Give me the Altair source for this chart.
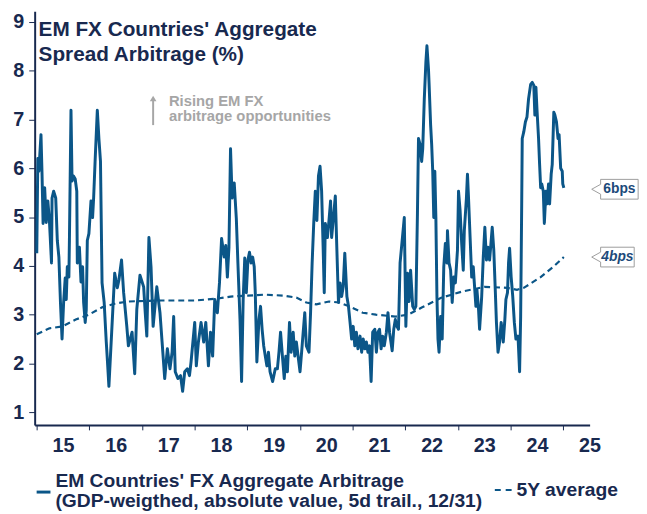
import altair as alt
import pandas as pd

BLUE = "#0b5688"
NAVY = "#18294f"
GRAY = "#a6a6a6"
CALLOUT_TEXT = "#1d4a7a"
FONT = "Liberation Sans"

# ---- main series: EM FX aggregate arbitrage (decimal year, %) ----
arb_t = [
    2015.00, 2015.02, 2015.04, 2015.08, 2015.10, 2015.12, 2015.15, 2015.18, 2015.21, 2015.24,
    2015.28, 2015.29, 2015.32, 2015.36, 2015.39, 2015.42, 2015.45, 2015.48, 2015.51, 2015.54,
    2015.56, 2015.58, 2015.61, 2015.62, 2015.65, 2015.67, 2015.70, 2015.73, 2015.76, 2015.77,
    2015.81, 2015.84, 2015.87, 2015.89, 2015.92, 2015.94, 2015.96, 2015.99,
    2016.03, 2016.06, 2016.08, 2016.11, 2016.15, 2016.18, 2016.21, 2016.24, 2016.28, 2016.32,
    2016.34, 2016.37, 2016.48, 2016.53, 2016.56, 2016.61, 2016.65, 2016.71, 2016.74, 2016.81,
    2016.86, 2016.90, 2016.96,
    2017.03, 2017.06, 2017.09, 2017.13, 2017.17, 2017.21, 2017.28, 2017.34, 2017.38, 2017.43,
    2017.48, 2017.53, 2017.57, 2017.60, 2017.63, 2017.68, 2017.73, 2017.77, 2017.81, 2017.86,
    2017.90, 2017.93,
    2018.00, 2018.03, 2018.07, 2018.12, 2018.17, 2018.21, 2018.26, 2018.30, 2018.34, 2018.38,
    2018.43, 2018.47, 2018.51, 2018.56, 2018.59, 2018.62, 2018.65, 2018.68, 2018.71, 2018.75,
    2018.79, 2018.82, 2018.86, 2018.89, 2018.92, 2018.95, 2018.98,
    2019.01, 2019.04, 2019.07, 2019.10, 2019.13, 2019.15, 2019.18, 2019.22, 2019.25, 2019.28,
    2019.31, 2019.34, 2019.37, 2019.40, 2019.43, 2019.48, 2019.53, 2019.57, 2019.60, 2019.63,
    2019.67, 2019.70, 2019.73, 2019.76, 2019.80, 2019.83, 2019.87, 2019.90, 2019.93, 2019.97,
    2020.00, 2020.03, 2020.06, 2020.09, 2020.12, 2020.17, 2020.20, 2020.23, 2020.26, 2020.29,
    2020.32, 2020.35, 2020.38, 2020.41, 2020.44, 2020.46, 2020.48, 2020.52, 2020.55, 2020.58,
    2020.60, 2020.63, 2020.67, 2020.70, 2020.73, 2020.76, 2020.79, 2020.82, 2020.85, 2020.89,
    2020.92, 2020.95, 2020.98,
    2021.01, 2021.04, 2021.07, 2021.10, 2021.14, 2021.17, 2021.20, 2021.23, 2021.26, 2021.29,
    2021.32, 2021.35, 2021.38, 2021.42, 2021.45, 2021.48, 2021.51, 2021.54, 2021.57, 2021.60,
    2021.64, 2021.67, 2021.70, 2021.75, 2021.78, 2021.81, 2021.84, 2021.87, 2021.90, 2021.94,
    2021.98,
    2022.01, 2022.04, 2022.07, 2022.10, 2022.14, 2022.17, 2022.20, 2022.23, 2022.25, 2022.28,
    2022.31, 2022.33, 2022.36, 2022.39, 2022.41, 2022.44, 2022.45, 2022.48, 2022.50, 2022.52,
    2022.54, 2022.56, 2022.58, 2022.60, 2022.62, 2022.64, 2022.67, 2022.70, 2022.73, 2022.76,
    2022.79, 2022.80, 2022.83, 2022.86, 2022.89, 2022.92, 2022.95, 2022.99,
    2023.01, 2023.04, 2023.07, 2023.10, 2023.12, 2023.16, 2023.18, 2023.20, 2023.23, 2023.26,
    2023.29, 2023.31, 2023.34, 2023.36, 2023.39, 2023.41, 2023.45, 2023.48, 2023.51, 2023.54,
    2023.57, 2023.60, 2023.62, 2023.65, 2023.68, 2023.71, 2023.73, 2023.76, 2023.79, 2023.82,
    2023.86, 2023.89, 2023.91, 2023.94, 2023.96, 2023.98,
    2024.01, 2024.04, 2024.07, 2024.10, 2024.14, 2024.17, 2024.19, 2024.21, 2024.22, 2024.25,
    2024.28, 2024.31, 2024.34, 2024.38, 2024.41, 2024.44, 2024.46, 2024.48, 2024.50, 2024.53,
    2024.55, 2024.57, 2024.59, 2024.62, 2024.64, 2024.67, 2024.69, 2024.72, 2024.74, 2024.77,
    2024.79, 2024.82, 2024.84, 2024.87, 2024.90, 2024.92, 2024.95, 2024.98, 2024.99, 2025.01,
]
arb_v = [
    4.26, 6.20, 5.94, 6.69, 5.88, 4.87, 5.60, 4.89, 5.33, 4.93,
    4.06, 5.39, 5.53, 5.39, 4.52, 4.18, 3.25, 2.50, 3.25, 3.75,
    3.31, 3.98, 3.77, 4.52, 7.19, 5.74, 5.84, 5.78, 5.53, 4.06,
    4.38, 3.67, 3.98, 3.25, 2.84, 3.10, 4.52, 4.66,
    5.33, 4.99, 5.39, 6.20, 7.19, 6.61, 6.14, 3.65, 3.25, 2.44,
    2.09, 1.53, 3.85, 3.55, 3.71, 4.12, 3.45, 2.76, 2.36, 2.64,
    1.79, 3.11, 3.81,
    3.57, 3.04, 2.56, 4.58, 3.98, 2.76, 3.57, 3.04, 2.44, 1.69,
    2.30, 1.89, 2.23, 2.96, 1.83, 1.69, 1.75, 1.43, 1.83, 1.89,
    1.75, 2.03,
    2.84, 1.95, 2.44, 2.84, 2.44, 2.84, 1.95, 2.64, 2.15, 3.31,
    3.04, 3.65, 4.56, 4.18, 4.42, 3.77, 4.38, 6.40, 5.39, 5.70,
    4.97, 4.06, 2.90, 1.63, 3.31, 4.16, 3.45,
    4.12, 4.28, 4.06, 4.18, 3.98, 3.45, 2.03, 2.90, 3.17, 2.70,
    2.36, 2.15, 1.95, 2.23, 1.83, 1.63, 1.89, 1.89, 2.23, 2.64,
    2.09, 1.69, 2.15, 1.83, 2.84, 2.23, 2.64, 2.15, 2.44, 2.09,
    1.83, 2.23, 2.64, 3.04, 2.36, 2.23, 3.04, 4.06, 4.87, 5.53,
    4.93, 5.84, 6.04, 5.53, 4.32, 3.45, 4.87, 4.58, 4.93, 5.33,
    4.58, 4.93, 5.43, 4.32, 3.25, 3.65, 3.37, 3.57, 4.26, 3.37,
    3.17, 2.84, 2.50,
    2.76, 2.36, 2.64, 2.30, 2.56, 2.23, 2.50, 2.30, 2.44, 2.23,
    2.36, 1.63, 2.64, 2.70, 2.23, 2.64, 2.70, 2.30, 2.56, 2.36,
    2.64, 3.04, 2.64, 2.26, 2.70, 2.90, 2.76, 2.70, 4.06, 4.52,
    4.99,
    2.76, 3.85, 3.27, 3.91, 3.17, 3.11, 3.17, 5.09, 6.61, 6.49,
    6.14, 6.40, 7.42, 8.17, 8.51, 8.02, 7.76, 6.89, 6.49, 5.94,
    4.99, 5.94, 4.99, 3.37, 2.50, 2.23, 2.96, 2.50, 3.98, 4.46,
    4.06, 4.72, 4.06, 3.91, 3.25, 3.77, 3.65, 4.32,
    5.53, 5.13, 4.46, 3.91, 4.72, 5.39, 5.88, 5.39, 4.58, 3.77,
    3.98, 3.65, 3.17, 3.51, 3.11, 2.70, 3.37, 4.18, 4.79, 4.12,
    4.38, 4.12, 4.38, 4.79, 4.32, 3.45, 2.84, 2.23, 2.44, 2.84,
    2.44, 2.90, 3.31, 3.45, 4.06, 4.36,
    3.77, 3.37, 2.84, 2.50, 2.56, 1.83, 2.96, 5.27, 6.61, 6.75,
    6.95, 7.05, 7.42, 7.72, 7.76, 7.70, 7.09, 7.66, 7.21, 6.61,
    6.08, 5.60, 5.68, 5.53, 4.87, 5.53, 5.27, 5.68, 5.27, 5.88,
    6.08, 7.15, 7.09, 6.95, 6.61, 6.69, 6.00, 5.94, 5.68, 5.60,
]

# ---- 5Y average (dashed) ----
avg_t = [
    2015.00, 2015.24, 2015.49, 2015.74, 2015.99, 2016.24, 2016.50, 2016.74, 2017.36, 2018.00,
    2018.43, 2018.68, 2019.00, 2019.32, 2019.69, 2019.93, 2020.12, 2020.31, 2020.55, 2020.74,
    2020.93, 2021.19, 2021.44, 2021.81, 2022.05, 2022.32, 2022.69, 2023.07, 2023.50, 2023.93,
    2024.12, 2024.25, 2024.57, 2024.81, 2025.01,
]
avg_v = [
    2.60, 2.72, 2.76, 2.90, 3.00, 3.15, 3.23, 3.27, 3.29, 3.29,
    3.33, 3.37, 3.39, 3.41, 3.39, 3.35, 3.25, 3.21, 3.27, 3.25,
    3.17, 3.04, 3.00, 2.96, 3.00, 3.15, 3.35, 3.47, 3.57, 3.55,
    3.51, 3.55, 3.77, 3.98, 4.18,
]

# ---- axes ----
x_ticks = list(range(2015, 2026))
y_ticks = list(range(1, 10))
x_domain = [2014.96, 2025.5]
y_domain = [0.74, 9.22]

# ---- texts ----
title_lines = ["EM FX Countries' Aggregate", "Spread Arbitrage (%)"]
note_lines = ["Rising EM FX", "arbitrage opportunities"]
note_arrow_t = [2017.21]
note_arrow_v0 = [6.885]
note_arrow_v1 = [7.40]
note_head_v = [7.43]
note_text_t = [2017.51]
note_text_v = [7.285]

callout_labels = ["6bps", "4bps"]
callout_t = [2025.54, 2025.54]
callout_v = [5.57, 4.18]
callout_dx = [28, 26]
callout_shapes = [
    "M0,0L0.18,-0.1L0.18,-0.2L0.94,-0.2L0.94,0.2L0.18,0.2L0.18,0.1Z",
    "M0,0L0.18,-0.1L0.18,-0.2L0.86,-0.2L0.86,0.2L0.18,0.2L0.18,0.1Z",
]

legend_main_lines = ["EM Countries' FX Aggregate Arbitrage",
                     "(GDP-weigthed, absolute value, 5d trail., 12/31)"]
legend_avg_label = "5Y average"

# ---- data frames ----
arb = pd.DataFrame({"t": arb_t, "v": arb_v})
avg = pd.DataFrame({"t": avg_t, "v": avg_v})
arrow = pd.DataFrame({"t": note_arrow_t, "v": note_arrow_v0, "v2": note_arrow_v1, "vh": note_head_v})
note = pd.DataFrame({"t": note_text_t, "v": note_text_v})
callouts = pd.DataFrame({"t": callout_t, "v": callout_v, "label": callout_labels,
                         "shape": callout_shapes})
one = pd.DataFrame({"k": [0]})

xs = alt.Scale(domain=x_domain, nice=False, zero=False)
ys = alt.Scale(domain=y_domain, nice=False, zero=False)

x_axis = alt.Axis(
    values=x_ticks, labelExpr="slice(toString(datum.value), 2)", labelOffset=26.6,
    labelFlush=False, labelOverlap=False, tickSize=5, tickWidth=1, tickColor=NAVY,
    domainColor=NAVY, domainWidth=2, labelColor=NAVY, labelFontSize=20,
    labelFontWeight="bold", labelFont=FONT, labelPadding=6, grid=False, title=None,
)
y_axis = alt.Axis(
    values=y_ticks, format="d", tickSize=6, tickWidth=1, tickColor=NAVY,
    domainColor=NAVY, domainWidth=2, labelColor=NAVY, labelFontSize=20,
    labelFontWeight="bold", labelFont=FONT, labelPadding=5, grid=False, title=None,
)


def X(field):
    return alt.X(field, type="quantitative", scale=xs, axis=x_axis)


def Y(field):
    return alt.Y(field, type="quantitative", scale=ys, axis=y_axis)


main_line = alt.Chart(arb).mark_line(color=BLUE, strokeWidth=3, strokeJoin="round").encode(
    x=X("t"), y=Y("v"))
avg_line = alt.Chart(avg).mark_line(color=BLUE, strokeWidth=2.2, strokeDash=[6, 4]).encode(
    x=X("t"), y=Y("v"))

arrow_rule = alt.Chart(arrow).mark_rule(color=GRAY, strokeWidth=2).encode(
    x=X("t"), y=Y("v"), y2="v2")
arrow_head = alt.Chart(arrow).mark_point(shape="triangle-up", filled=True, size=45,
                                         color=GRAY, opacity=1).encode(x=X("t"), y=Y("vh"))
note_text = alt.Chart(note).mark_text(
    text=note_lines, align="left", baseline="alphabetic", lineHeight=15.5,
    fontSize=15, fontWeight="bold", font=FONT, color=GRAY).encode(x=X("t"), y=Y("v"))

callout_box = alt.Chart(callouts).mark_point(
    filled=True, fill="white", fillOpacity=1, stroke="#9c9c9c", strokeWidth=1,
    size=10000, opacity=1).encode(x=X("t"), y=Y("v"),
                                  shape=alt.Shape("shape:N", scale=None, legend=None))
callout_6 = alt.Chart(callouts).transform_filter(alt.datum.label == callout_labels[0]).mark_text(
    align="center", baseline="middle", dx=callout_dx[0], fontSize=14, fontWeight="bold",
    font=FONT, color=CALLOUT_TEXT).encode(x=X("t"), y=Y("v"), text="label:N")
callout_4 = alt.Chart(callouts).transform_filter(alt.datum.label == callout_labels[1]).mark_text(
    align="center", baseline="middle", dx=callout_dx[1], fontSize=14, fontWeight="bold",
    fontStyle="italic", font=FONT, color=CALLOUT_TEXT).encode(x=X("t"), y=Y("v"), text="label:N")

title = alt.Chart(one).mark_text(
    text=title_lines, align="left", baseline="alphabetic", lineHeight=25,
    fontSize=21, fontWeight="bold", font=FONT, color=NAVY).encode(
    x=alt.value(4), y=alt.value(25))

leg_sym = alt.Chart(one).mark_rule(color=BLUE, strokeWidth=3).encode(
    x=alt.value(2), x2=alt.value(16), y=alt.value(487))
leg_txt = alt.Chart(one).mark_text(
    text=legend_main_lines, align="left", baseline="middle", lineHeight=20,
    fontSize=19.5, fontWeight="bold", font=FONT, color=NAVY).encode(
    x=alt.value(21), y=alt.value(476))
leg_dash = alt.Chart(one).mark_rule(color=BLUE, strokeWidth=2, strokeDash=[6, 5]).encode(
    x=alt.value(466), x2=alt.value(484), y=alt.value(485))
leg_avg = alt.Chart(one).mark_text(
    text=legend_avg_label, align="left", baseline="middle",
    fontSize=19.5, fontWeight="bold", font=FONT, color=NAVY).encode(
    x=alt.value(488), y=alt.value(485))

chart = alt.layer(
    avg_line, main_line, arrow_rule, arrow_head, note_text,
    callout_box, callout_6, callout_4, title, leg_sym, leg_txt, leg_dash, leg_avg,
).properties(
    width=562, height=419,
    autosize=alt.AutoSizeParams(type="none"),
    padding={"left": 27, "top": 0, "right": 50, "bottom": 87},
).configure(font=FONT).configure_view(stroke=None)

chart.save("out.html", embed_options={"renderer": "svg", "actions": False})
